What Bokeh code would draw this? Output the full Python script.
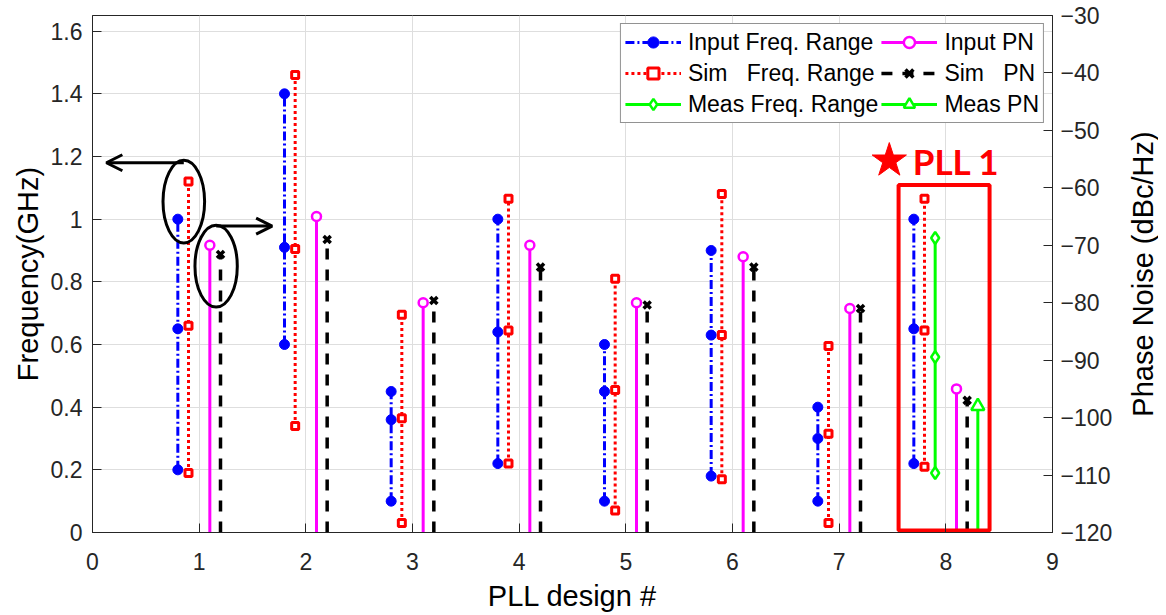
import math
from bokeh.plotting import figure
from bokeh.layouts import row
from bokeh.models import (Range1d, LinearAxis, FixedTicker, Legend, LegendItem,
                          Arrow, OpenHead)
from bokeh.core.properties import value
from bokeh.embed import file_html
from bokeh.resources import INLINE

# ---------------- data ----------------
designs = [1, 2, 3, 4, 5, 6, 7, 8]
input_lo = [0.20, 0.60, 0.10, 0.22, 0.10, 0.18, 0.10, 0.22]
input_mid = [0.65, 0.91, 0.36, 0.64, 0.45, 0.63, 0.30, 0.65]
input_hi = [1.00, 1.40, 0.45, 1.00, 0.60, 0.90, 0.40, 1.00]
sim_lo = [0.19, 0.34, 0.03, 0.22, 0.07, 0.17, 0.03, 0.21]
sim_mid = [0.66, 0.905, 0.365, 0.645, 0.455, 0.63, 0.315, 0.645]
sim_hi = [1.12, 1.46, 0.695, 1.065, 0.81, 1.08, 0.595, 1.065]
input_pn = [-70, -65, -80, -70, -80, -72, -81, -95]
sim_pn = [-71.6, -69, -79.6, -73.8, -80.4, -73.8, -81, -97]
meas_designs = [8]
meas_lo = [0.19]
meas_mid = [0.56]
meas_hi = [0.94]
meas_pn = [-98]

x_ticks = [0, 1, 2, 3, 4, 5, 6, 7, 8, 9]
freq_ticks = [0, 0.2, 0.4, 0.6, 0.8, 1, 1.2, 1.4, 1.6]
freq_tick_labels = ["0", "0.2", "0.4", "0.6", "0.8", "1", "1.2", "1.4", "1.6"]
pn_ticks = [-120, -110, -100, -90, -80, -70, -60, -50, -40, -30]

# horizontal offsets of each series around the design number
off_input = [-0.2, -0.2, -0.2, -0.2, -0.2, -0.2, -0.2, -0.3]
off_sim = [-0.1, -0.1, -0.1, -0.1, -0.1, -0.1, -0.1, -0.2]
off_meas = [-0.1]
off_input_pn = [0.1] * 8
off_sim_pn = [0.2] * 8
off_meas_pn = [0.3]

# annotations (ellipses, arrows, highlight box)
ell_x = [0.856, 1.159]
ell_y = [1.056, 0.850]
ell_w = [0.39, 0.397]
ell_h = [0.264, 0.261]
arrows = [(0.856, 1.18, 0.13, 1.18), (1.16, 0.978, 1.684, 0.978)]
box = dict(left=7.557, right=8.41, bottom=0.006, top=1.109)
star_xy = (7.47, 1.187)
pll_label_xy = (7.69, 1.187)

FONT = "Liberation Sans"
AX = "#262626"
BLUE, RED, GREEN, MAG = "#0000ff", "#ff0000", "#00ff00", "#ff00ff"

H = 615
p = figure(width=1126, height=H, x_range=Range1d(0, 9), y_range=Range1d(0, 1.65),
           output_backend="svg", toolbar_location=None,
           min_border_left=92, min_border_right=74, min_border_top=15, min_border_bottom=75)
p.extra_y_ranges = {"pn": Range1d(-120, -30)}
p.outline_line_color = AX
p.outline_line_width = 1
p.background_fill_color = "white"

# axes styling
def style_axis(ax, label):
    ax.axis_label = label
    ax.axis_label_text_font = FONT
    ax.axis_label_text_font_size = "29px"
    ax.axis_label_text_font_style = "normal"
    ax.axis_label_text_color = "black"
    ax.major_label_text_font = FONT
    ax.major_label_text_font_size = "23px"
    ax.major_label_text_color = AX
    ax.axis_line_color = AX
    ax.major_tick_line_color = AX
    ax.major_tick_in = 9
    ax.major_tick_out = 0
    ax.minor_tick_line_color = None

style_axis(p.xaxis[0], "PLL design #")
p.xaxis[0].ticker = FixedTicker(ticks=x_ticks)
p.xaxis[0].major_label_standoff = 20
p.xaxis[0].axis_label_standoff = 7

style_axis(p.yaxis[0], "Frequency(GHz)")
p.yaxis[0].ticker = FixedTicker(ticks=freq_ticks)
p.yaxis[0].major_label_overrides = {t: l for t, l in zip(freq_ticks, freq_tick_labels)}
p.yaxis[0].major_label_standoff = 10
p.yaxis[0].axis_label_standoff = 4

rax = LinearAxis(y_range_name="pn", ticker=FixedTicker(ticks=pn_ticks))
style_axis(rax, None)
rax.major_label_standoff = 8
p.add_layout(rax, "right")

p.xgrid.ticker = FixedTicker(ticks=x_ticks)
p.ygrid.ticker = FixedTicker(ticks=freq_ticks)
for g in (p.xgrid[0], p.ygrid[0]):
    g.grid_line_color = "#dedede"
    g.grid_line_width = 1

# ---------------- series ----------------
def xs_of(ds, offs):
    return [d + o for d, o in zip(ds, offs)]

xi = xs_of(designs, off_input)
xsim = xs_of(designs, off_sim)
xm = xs_of(meas_designs, off_meas)
xipn = xs_of(designs, off_input_pn)
xspn = xs_of(designs, off_sim_pn)
xmpn = xs_of(meas_designs, off_meas_pn)

# Input freq range
r_in_l = p.multi_line([[x, x] for x in xi], [[lo, hi] for lo, hi in zip(input_lo, input_hi)],
                      line_color=BLUE, line_width=3, line_dash="9 3 2 3")
r_in_m = p.scatter(xi * 3, input_lo + input_mid + input_hi, marker="circle", size=10,
                   fill_color=BLUE, line_color=BLUE)
# Sim freq range
r_sim_l = p.multi_line([[x, x] for x in xsim], [[lo, hi] for lo, hi in zip(sim_lo, sim_hi)],
                       line_color=RED, line_width=3, line_dash="3 3")
r_sim_m = p.scatter(xsim * 3, sim_lo + sim_mid + sim_hi, marker="square", size=7,
                    fill_color="white", line_color=RED, line_width=3)
# Meas freq range
r_meas_l = p.multi_line([[x, x] for x in xm], [[lo, hi] for lo, hi in zip(meas_lo, meas_hi)],
                        line_color=GREEN, line_width=3)
r_meas_m = p.scatter(xm * 3, meas_lo + meas_mid + meas_hi, marker="diamond", size=12,
                     fill_color="white", line_color=GREEN, line_width=2.5)

# Input PN
r_ipn_l = p.segment(x0=xipn, y0=[-120] * len(xipn), x1=xipn, y1=input_pn, y_range_name="pn",
                    line_color=MAG, line_width=3)
r_ipn_m = p.scatter(xipn, input_pn, y_range_name="pn", marker="circle", size=9,
                    fill_color="white", line_color=MAG, line_width=2.5)
# Sim PN
r_spn_l = p.segment(x0=xspn, y0=[-120] * len(xspn), x1=xspn, y1=sim_pn, y_range_name="pn",
                    line_color="black", line_width=3.5, line_dash="11 10")
r_spn_m = p.scatter(xspn, sim_pn, y_range_name="pn", marker="x", size=10,
                    line_color="black", line_width=3.5)
# Meas PN
r_mpn_l = p.segment(x0=xmpn, y0=[-120] * len(xmpn), x1=xmpn, y1=meas_pn, y_range_name="pn",
                    line_color=GREEN, line_width=3)
r_mpn_m = p.scatter(xmpn, meas_pn, y_range_name="pn", marker="triangle", size=13,
                    fill_color="white", line_color=GREEN, line_width=2.5)

# ---------------- annotations ----------------
p.ellipse(x=ell_x, y=ell_y, width=ell_w, height=ell_h, fill_color=None,
          line_color="black", line_width=3)
for (x0, y0, x1, y1) in arrows:
    p.add_layout(Arrow(end=OpenHead(size=16, line_width=3, line_color="black"),
                       x_start=x0, y_start=y0, x_end=x1, y_end=y1,
                       line_width=3, line_color="black"))
p.quad(left=[box["left"]], right=[box["right"]], bottom=[box["bottom"]], top=[box["top"]],
       fill_color=None, line_color=RED, line_width=4)
p.scatter([star_xy[0]], [star_xy[1]], marker="star", size=36, fill_color=RED, line_color=RED)
p.text([pll_label_xy[0]], [pll_label_xy[1]], text=["PLL 1"], text_color=RED,
       text_font=value("Lato"), text_font_style="bold", text_font_size="35px",
       text_baseline="middle", text_align="left")

# ---------------- legend ----------------
legend = Legend(items=[
    LegendItem(label="Input Freq. Range", renderers=[r_in_l, r_in_m]),
    LegendItem(label="Sim   Freq. Range", renderers=[r_sim_l, r_sim_m]),
    LegendItem(label="Meas Freq. Range", renderers=[r_meas_l, r_meas_m]),
    LegendItem(label="Input PN", renderers=[r_ipn_l, r_ipn_m]),
    LegendItem(label="Sim   PN", renderers=[r_spn_l, r_spn_m]),
    LegendItem(label="Meas PN", renderers=[r_mpn_l, r_mpn_m]),
], ncols=2, location="top_right")
legend.margin = 8
legend.padding = 4
legend.spacing = 3
legend.glyph_width = 56
legend.glyph_height = 28
legend.label_height = 28
legend.label_standoff = 7
legend.label_text_font = FONT
legend.label_text_font_size = "23px"
legend.label_text_color = "black"
legend.border_line_color = AX
legend.border_line_width = 1
legend.background_fill_alpha = 1
p.add_layout(legend)

# ---------------- right-hand axis title (reads bottom-to-top) ----------------
# a narrow text-only panel, its vertical range matched to the main plot frame
t = figure(width=32, height=H, x_range=Range1d(-1, 1), y_range=Range1d(0, 1.65),
           output_backend="svg", toolbar_location=None, x_axis_type=None, y_axis_type=None,
           min_border_left=0, min_border_right=0, min_border_top=15, min_border_bottom=83)
t.outline_line_color = None
t.grid.visible = False
t.text([0], [0.825], text=["Phase Noise (dBc/Hz)"], angle=math.pi / 2,
       text_align="center", text_baseline="middle", text_color="black",
       text_font=value(FONT), text_font_size="29px")

layout = row(p, t, spacing=0)
open("out.html", "w").write(file_html(layout, INLINE))
